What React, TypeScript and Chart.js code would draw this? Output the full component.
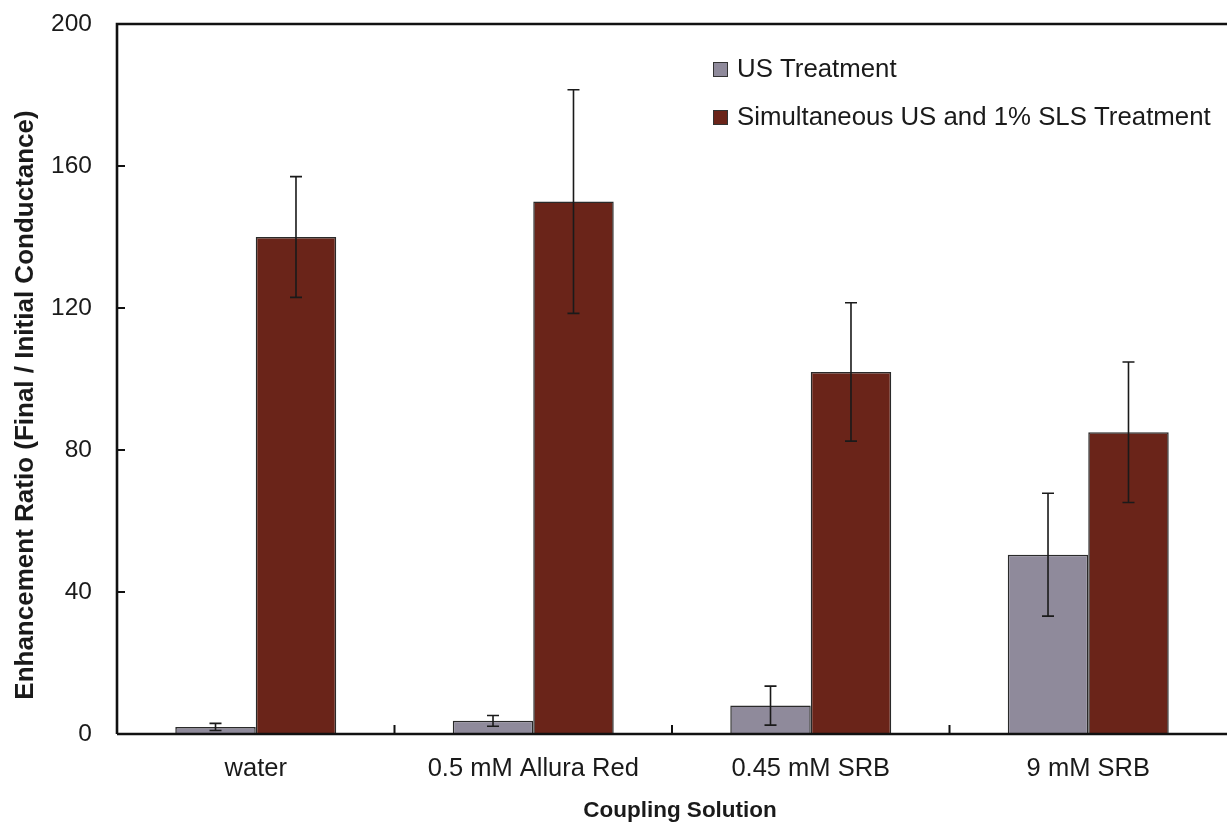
import React, { useEffect, useRef } from "react";
import { Chart, registerables } from "chart.js";

Chart.register(...registerables);

const categories = ["water", "0.5 mM Allura Red", "0.45 mM SRB", "9 mM SRB"];
const seriesNames = ["US Treatment", "Simultaneous US and 1% SLS Treatment"];
const usValues = [2, 3.7, 8, 50.5];
const usErrors = [1, 1.5, 5.5, 17.3];
const slsValues = [140, 150, 102, 85];
const slsErrors = [17, 31.5, 19.5, 19.8];
const yTickValues = [0, 40, 80, 120, 160, 200];
const xTitle = "Coupling Solution";
const yTitle = "Enhancement Ratio (Final / Initial Conductance)";

const US_COLOR = "#8f8a9b";
const SLS_COLOR = "#6a2419";
const INK = "#1a1a1a";
const FONT = "'Liberation Sans', Arial, sans-serif";

const errorsByDataset = [usErrors, slsErrors];

const framePlugin = {
  id: "frame",
  afterDatasetsDraw(chart: any) {
    const { ctx, chartArea, scales } = chart;
    const { left, right, top, bottom } = chartArea;
    const y = scales.y;
    const x = scales.x;
    ctx.save();
    // error bars
    ctx.strokeStyle = INK;
    ctx.lineWidth = 1.6;
    chart.data.datasets.forEach((ds: any, i: number) => {
      const meta = chart.getDatasetMeta(i);
      const errs = errorsByDataset[i];
      meta.data.forEach((bar: any, j: number) => {
        const v = ds.data[j];
        const e = errs[j];
        const yt = y.getPixelForValue(v + e);
        const yb = y.getPixelForValue(v - e);
        const cx = bar.x;
        ctx.beginPath();
        ctx.moveTo(cx, yt);
        ctx.lineTo(cx, yb);
        ctx.moveTo(cx - 6, yt);
        ctx.lineTo(cx + 6, yt);
        ctx.moveTo(cx - 6, yb);
        ctx.lineTo(cx + 6, yb);
        ctx.stroke();
      });
    });
    // frame lines
    ctx.strokeStyle = "#111";
    ctx.lineWidth = 2.6;
    ctx.beginPath();
    ctx.moveTo(left, bottom);
    ctx.lineTo(left, top);
    ctx.lineTo(right, top);
    ctx.moveTo(left, bottom);
    ctx.lineTo(right, bottom);
    ctx.stroke();
    // inward ticks
    ctx.lineWidth = 2;
    ctx.beginPath();
    yTickValues.forEach((t) => {
      if (t === 0 || t === 200) return;
      const py = y.getPixelForValue(t);
      ctx.moveTo(left, py);
      ctx.lineTo(left + 8, py);
    });
    for (let k = 1; k < categories.length; k++) {
      const px = (x.getPixelForValue(k - 1) + x.getPixelForValue(k)) / 2;
      ctx.moveTo(px, bottom);
      ctx.lineTo(px, bottom - 9);
    }
    ctx.stroke();
    // legend
    const colors = [US_COLOR, SLS_COLOR];
    const rows = [69, 117];
    ctx.font = `25.8px ${FONT}`;
    ctx.textBaseline = "middle";
    ctx.textAlign = "left";
    seriesNames.forEach((name, i) => {
      const ry = rows[i];
      ctx.fillStyle = colors[i];
      ctx.fillRect(713, ry - 7, 14, 14);
      ctx.lineWidth = 1;
      ctx.strokeStyle = "#333";
      ctx.strokeRect(713.5, ry - 6.5, 14, 14);
      ctx.fillStyle = INK;
      ctx.fillText(name, 737, ry + 1);
    });
    // axis titles
    ctx.fillStyle = INK;
    ctx.textAlign = "center";
    ctx.textBaseline = "middle";
    ctx.font = `bold 22.5px ${FONT}`;
    ctx.fillText(xTitle, 680, 811);
    ctx.translate(26, 405);
    ctx.rotate(-Math.PI / 2);
    ctx.font = `bold 26px ${FONT}`;
    ctx.fillText(yTitle, 0, 0);
    ctx.restore();
  },
};

export default function App() {
  const canvasRef = useRef<HTMLCanvasElement | null>(null);

  useEffect(() => {
    if (!canvasRef.current) return;
    const chart = new Chart(canvasRef.current, {
      type: "bar",
      data: {
        labels: categories,
        datasets: [
          {
            label: seriesNames[0],
            data: usValues,
            backgroundColor: US_COLOR,
            borderColor: "#2a2a2a",
            borderWidth: 1.5,
            categoryPercentage: 0.58,
            barPercentage: 1.0,
          },
          {
            label: seriesNames[1],
            data: slsValues,
            backgroundColor: SLS_COLOR,
            borderColor: "#2a2a2a",
            borderWidth: 1.5,
            categoryPercentage: 0.58,
            barPercentage: 1.0,
          },
        ],
      },
      options: {
        responsive: false,
        animation: false,
        layout: { padding: { top: 24, right: 0, left: 0, bottom: 0 } },
        plugins: {
          legend: { display: false },
          tooltip: { enabled: false },
        },
        scales: {
          x: {
            grid: { display: false, drawTicks: false },
            border: { display: false },
            ticks: {
              color: INK,
              padding: 20,
              font: { family: FONT, size: 25.5 },
              maxRotation: 0,
            },
            title: { display: false },
            afterFit(scale: any) {
              scale.height = 93;
              scale.paddingLeft = 0;
              scale.paddingRight = 0;
            },
          },
          y: {
            min: 0,
            max: 200,
            grid: { display: false, drawTicks: false },
            border: { display: false },
            afterBuildTicks(scale: any) {
              scale.ticks = yTickValues.map((v) => ({ value: v }));
            },
            ticks: {
              color: INK,
              padding: 25,
              font: { family: FONT, size: 24.5 },
            },
            title: { display: false },
            afterFit(scale: any) {
              scale.width = 117;
              scale.paddingTop = 0;
              scale.paddingBottom = 0;
            },
          },
        },
      },
      plugins: [framePlugin],
    });
    return () => chart.destroy();
  }, []);

  return (
    <div
      style={{
        position: "fixed",
        left: 0,
        top: 0,
        width: 1227,
        height: 827,
        background: "#fff",
      }}
    >
      <canvas ref={canvasRef} width={1227} height={827} />
    </div>
  );
}
